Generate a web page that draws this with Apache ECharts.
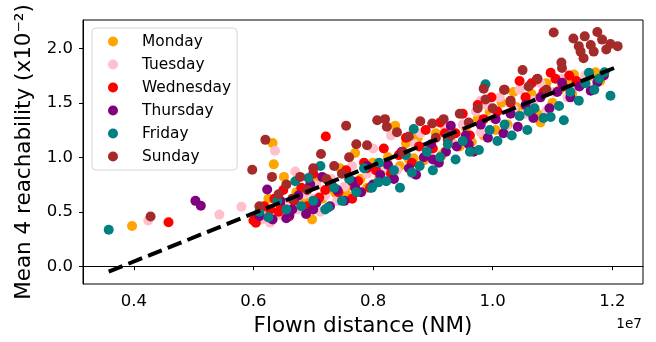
<!DOCTYPE html>
<html>
<head>
<meta charset="utf-8">
<script src="https://cdn.jsdelivr.net/npm/echarts@6/dist/echarts.min.js"></script>
<style>html,body{margin:0;padding:0;background:#fff}#c{width:656px;height:342px}</style>
</head>
<body>
<div id="c"></div>
<script>
// x values in units of 1e7 NM, y in units of 1e-2
var xTicks = [0.4, 0.6, 0.8, 1.0, 1.2];
var yTicks = [0.0, 0.5, 1.0, 1.5, 2.0];
var days = ['Monday', 'Tuesday', 'Wednesday', 'Thursday', 'Friday', 'Sunday'];
var colors = ['#FFA500', '#FFC0CB', '#FF0000', '#800080', '#008080', '#A52A2A'];

var monday = [[0.397,0.37],[0.605,0.45],[0.615,0.52],[0.625,0.62],[0.632,1.13],[0.634,0.935],[0.64,0.48],[0.651,0.82],[0.66,0.55],[0.672,0.68],[0.685,0.6],[0.698,0.43],[0.705,0.78],[0.715,0.62],[0.725,0.71],[0.737,0.675],[0.745,0.9],[0.755,0.66],[0.77,1.04],[0.779,0.8],[0.79,0.72],[0.80,0.95],[0.815,0.87],[0.825,1.0],[0.837,1.29],[0.845,0.92],[0.855,1.13],[0.868,0.99],[0.875,1.18],[0.885,0.97],[0.895,1.08],[0.905,1.22],[0.915,1.02],[0.93,1.15],[0.945,1.1],[0.955,1.27],[0.965,1.14],[0.975,1.35],[0.985,1.2],[0.995,1.42],[1.005,1.25],[1.015,1.5],[1.025,1.3],[1.035,1.6],[1.045,1.38],[1.055,1.45],[1.065,1.58],[1.075,1.4],[1.08,1.32],[1.09,1.68],[1.10,1.5],[1.112,1.62],[1.125,1.71],[1.133,1.58],[1.136,1.76],[1.148,1.67],[1.16,1.74],[1.172,1.78],[1.18,1.7],[0.68,0.66],[0.76,0.74],[0.81,0.8],[0.86,0.98],[0.92,1.05],[1.04,1.46]];
var tuesday = [[0.424,0.42],[0.543,0.474],[0.58,0.546],[0.605,0.41],[0.612,0.44],[0.62,0.5],[0.628,0.4],[0.636,1.06],[0.645,0.47],[0.655,0.58],[0.67,0.87],[0.675,0.52],[0.685,0.66],[0.695,0.56],[0.705,0.74],[0.712,0.5],[0.72,0.65],[0.73,0.8],[0.74,0.6],[0.752,0.73],[0.765,0.92],[0.775,0.68],[0.79,0.85],[0.80,1.08],[0.812,0.78],[0.82,0.9],[0.83,1.2],[0.84,0.88],[0.855,1.02],[0.865,0.85],[0.88,1.22],[0.89,1.05],[0.905,0.97],[0.92,1.27],[0.935,1.12],[0.95,1.3],[0.96,1.18],[0.972,1.42],[0.98,1.23],[0.99,1.48],[1.0,1.36],[1.012,1.55],[1.022,1.28],[1.035,1.45],[1.045,1.62],[1.055,1.4],[1.068,1.52],[1.08,1.68],[1.09,1.43],[1.102,1.6],[1.115,1.72],[1.125,1.55],[1.14,1.66],[1.155,1.75],[1.165,1.63],[0.615,0.43],[0.632,0.46],[0.65,0.52],[0.7,0.62],[0.87,1.12],[0.98,1.52]];
var wednesday = [[0.458,0.404],[0.6,0.42],[0.608,0.47],[0.618,0.55],[0.625,0.45],[0.635,0.62],[0.642,0.5],[0.65,0.7],[0.66,0.46],[0.668,0.6],[0.68,0.72],[0.69,0.55],[0.7,0.85],[0.71,0.63],[0.721,1.19],[0.73,0.76],[0.742,0.68],[0.755,0.88],[0.765,0.62],[0.775,0.78],[0.785,0.95],[0.795,0.72],[0.805,0.88],[0.818,1.08],[0.83,0.85],[0.843,1.02],[0.855,1.18],[0.865,0.95],[0.877,1.1],[0.888,1.25],[0.9,1.08],[0.912,1.32],[0.925,1.16],[0.938,1.22],[0.95,1.4],[0.962,1.2],[0.975,1.48],[0.985,1.35],[0.998,1.55],[1.008,1.42],[1.02,1.62],[1.03,1.5],[1.045,1.7],[1.055,1.55],[1.065,1.68],[1.074,1.715],[1.085,1.6],[1.097,1.776],[1.105,1.72],[1.118,1.65],[1.128,1.75],[1.14,1.7],[0.604,0.4],[0.628,0.52],[0.645,0.56],[0.72,0.7],[0.79,0.9],[0.92,1.22]];
var thursday = [[0.503,0.6],[0.512,0.555],[0.61,0.46],[0.623,0.705],[0.632,0.43],[0.645,0.6],[0.655,0.44],[0.665,0.52],[0.675,0.65],[0.688,0.48],[0.695,0.75],[0.705,0.58],[0.715,0.82],[0.728,0.55],[0.74,0.7],[0.752,0.6],[0.765,0.78],[0.78,0.68],[0.79,0.92],[0.8,0.75],[0.812,0.84],[0.825,0.93],[0.835,0.8],[0.848,1.05],[0.86,0.9],[0.872,0.84],[0.885,1.0],[0.897,1.12],[0.91,0.95],[0.922,1.05],[0.93,1.29],[0.94,1.1],[0.955,1.2],[0.968,1.05],[0.98,1.3],[0.992,1.18],[1.005,1.35],[1.018,1.22],[1.03,1.4],[1.042,1.28],[1.055,1.48],[1.068,1.36],[1.08,1.55],[1.095,1.45],[1.108,1.6],[1.116,1.685],[1.13,1.55],[1.145,1.65],[1.164,1.61],[1.175,1.69],[1.186,1.75],[0.66,0.47],[0.7,0.52],[0.77,0.72],[0.9,0.98],[0.96,1.12]];
var friday = [[0.358,0.335],[0.61,0.5],[0.625,0.45],[0.64,0.6],[0.655,0.52],[0.67,0.78],[0.68,0.55],[0.692,0.81],[0.7,0.6],[0.712,0.92],[0.72,0.52],[0.735,0.72],[0.748,0.6],[0.76,0.8],[0.772,0.68],[0.785,0.9],[0.798,0.72],[0.81,0.95],[0.822,0.78],[0.835,0.88],[0.845,0.72],[0.855,1.02],[0.868,1.26],[0.878,0.92],[0.89,1.05],[0.9,0.88],[0.912,1.0],[0.925,1.12],[0.938,0.98],[0.95,1.15],[0.962,1.05],[0.977,1.067],[0.988,1.67],[0.995,1.25],[1.008,1.15],[1.02,1.3],[1.032,1.2],[1.045,1.38],[1.058,1.25],[1.07,1.45],[1.085,1.36],[1.097,1.37],[1.111,1.47],[1.119,1.34],[1.13,1.6],[1.144,1.52],[1.155,1.68],[1.161,1.776],[1.17,1.62],[1.178,1.72],[1.187,1.78],[1.197,1.564],[0.725,0.54],[0.809,0.77],[0.865,0.86],[0.926,1.19],[1.06,1.42]];
var sunday = [[0.428,0.456],[0.598,0.886],[0.62,1.16],[0.631,0.82],[0.61,0.55],[0.642,0.66],[0.655,0.75],[0.665,0.62],[0.678,0.82],[0.69,0.7],[0.7,0.9],[0.713,1.03],[0.722,0.8],[0.735,0.92],[0.748,0.85],[0.755,1.29],[0.76,1.0],[0.772,1.12],[0.79,1.11],[0.807,1.34],[0.82,1.35],[0.823,1.28],[0.84,1.23],[0.85,1.05],[0.86,1.19],[0.879,1.33],[0.899,1.31],[0.905,1.18],[0.918,1.35],[0.93,1.2],[0.945,1.4],[0.96,1.32],[0.975,1.45],[0.985,1.63],[0.988,1.53],[1.0,1.45],[1.019,1.62],[1.03,1.52],[1.05,1.8],[1.06,1.65],[1.075,1.72],[1.09,1.62],[1.102,2.146],[1.115,1.87],[1.116,1.82],[1.135,2.09],[1.144,2.02],[1.147,1.97],[1.152,1.91],[1.154,2.11],[1.164,2.03],[1.169,1.97],[1.175,2.15],[1.183,2.08],[1.19,1.99],[1.197,2.04],[1.209,2.02]];
var fitX = [0.358, 1.21];
var fitY = [-0.05, 1.835];

var seriesData = [monday, tuesday, wednesday, thursday, friday, sunday];
var FONT = 'DejaVu Sans';

var series = days.map(function (d, i) {
  return {
    name: d, type: 'scatter', data: seriesData[i], symbolSize: 10,
    itemStyle: { color: colors[i], opacity: 1 }, z: 2 + i * 0.01
  };
});
series.push({
  name: 'fit', type: 'line', data: fitX.map(function (x, i) { return [x, fitY[i]]; }),
  symbol: 'none', lineStyle: { color: '#000', width: 4, type: [14.8, 6.4], cap: 'butt' }, z: 5
});

var chart = echarts.init(document.getElementById('c'), null, { renderer: 'canvas' });
chart.setOption({
  animation: false,
  backgroundColor: '#fff',
  grid: { left: 83, right: 13, top: 20, bottom: 54, show: true, borderColor: '#000', borderWidth: 1, backgroundColor: 'transparent' },
  legend: {
    data: days, left: 92, top: 28, orient: 'vertical', icon: 'circle',
    itemWidth: 12, itemHeight: 10, itemGap: 8,
    padding: [6, 6, 6, 16],
    backgroundColor: 'rgba(255,255,255,0.8)', borderColor: '#d6d6d6', borderWidth: 1, borderRadius: 4,
    textStyle: { fontFamily: FONT, fontSize: 15.4, color: '#000', padding: [0, 0, 0, 18], lineHeight: 14 }
  },
  xAxis: {
    type: 'value', min: 0.315, max: 1.2514,
    name: 'Flown distance (NM)', nameLocation: 'middle', nameGap: 31,
    nameTextStyle: { fontFamily: FONT, fontSize: 21.5, color: '#000' },
    axisLine: { show: true, lineStyle: { color: '#000', width: 1 } },
    axisTick: { show: true, inside: false, length: 4, lineStyle: { color: '#000' }, customValues: xTicks },
    axisLabel: { fontFamily: FONT, fontSize: 16.5, color: '#000', margin: 9, customValues: xTicks, formatter: function (v) { return v.toFixed(1); } },
    splitLine: { show: false }
  },
  yAxis: {
    type: 'value', min: -0.163, max: 2.26,
    name: 'Mean 4 reachability (x10\u207B\u00B2)', nameLocation: 'middle', nameGap: 45,
    nameTextStyle: { fontFamily: FONT, fontSize: 21.5, color: '#000' },
    axisLine: { show: true, lineStyle: { color: '#000', width: 1 } },
    axisTick: { show: true, inside: false, length: 4, lineStyle: { color: '#000' }, customValues: yTicks },
    axisLabel: { fontFamily: FONT, fontSize: 16.5, color: '#000', margin: 10, customValues: yTicks, formatter: function (v) { return v.toFixed(1); } },
    splitLine: { show: false }
  },
  graphic: [{
    type: 'text', right: 14, top: 317,
    style: { text: '1e7', fontFamily: FONT, fontSize: 13.6, fill: '#000' }
  }],
  series: series
});
</script>
</body>
</html>
